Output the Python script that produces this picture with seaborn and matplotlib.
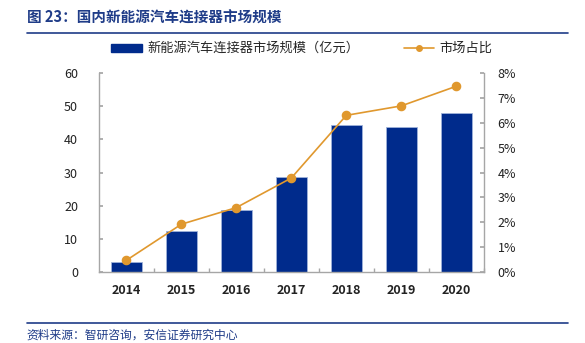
import matplotlib
matplotlib.use("Agg")
import matplotlib.pyplot as plt
import seaborn as sns
import pandas as pd
import numpy as np
from matplotlib.lines import Line2D
from matplotlib.patches import Patch
from matplotlib.ticker import FuncFormatter, MultipleLocator

years = ["2014", "2015", "2016", "2017", "2018", "2019", "2020"]
market_size = [2.9, 12.4, 18.6, 28.8, 44.4, 43.8, 48.0]   # 亿元
market_share = [0.47, 1.92, 2.59, 3.78, 6.30, 6.68, 7.47]  # %

title_text = "图 23：国内新能源汽车连接器市场规模"
bar_label = "新能源汽车连接器市场规模（亿元）"
line_label = "市场占比"
source_text = "资料来源：智研咨询，安信证券研究中心"

bar_color = "#002B8C"
line_color = "#E0982E"
dark_blue = "#1F3C88"
axis_gray = "#A6A6A6"

sns.set_theme(style="white")
plt.rcParams["font.family"] = ["Noto Sans CJK SC", "DejaVu Sans"]

df = pd.DataFrame({"year": years, "size": market_size, "share": market_share})

fig = plt.figure(figsize=(5.85, 3.43), dpi=100)
ax = fig.add_axes([0.169, 0.207, 0.658, 0.58])

sns.barplot(data=df, x="year", y="size", ax=ax, color=bar_color, width=0.56,
            saturation=1, edgecolor="#9FB2DA", linewidth=0.6)
ax2 = ax.twinx()
sns.pointplot(data=df, x="year", y="share", ax=ax2, color=line_color,
              markers="o", markersize=6, linewidth=1.2)

ax.set_xlim(-0.5, 6.45)
ax.set_ylim(0, 60)
ax2.set_ylim(0, 8)
ax.yaxis.set_major_locator(MultipleLocator(10))
ax2.yaxis.set_major_locator(MultipleLocator(1))
ax2.yaxis.set_major_formatter(FuncFormatter(lambda v, p: f"{v:.0f}%"))

for a in (ax, ax2):
    a.set_xlabel("")
    a.set_ylabel("")
    a.spines["top"].set_visible(False)
    for s in ("left", "right", "bottom"):
        a.spines[s].set_color(axis_gray)
        a.spines[s].set_linewidth(1.0)
    a.grid(False)

ax.spines["right"].set_visible(False)
ax2.spines["left"].set_visible(False)
ax2.spines["bottom"].set_visible(False)

ax.tick_params(axis="y", direction="in", length=3, color=axis_gray, labelsize=9,
               labelcolor="#222222", pad=15, left=True)
ax2.tick_params(axis="y", direction="in", length=3, color=axis_gray, labelsize=9,
                labelcolor="#222222", pad=10, right=True)
ax.tick_params(axis="x", length=0, labelsize=9, labelcolor="#222222", pad=9)
for lbl in ax.get_xticklabels():
    lbl.set_fontweight("bold")
# category boundary ticks on x axis
ax.set_xticks(np.arange(len(years)) + 0.5, minor=True)
ax.tick_params(axis="x", which="minor", direction="in", length=3, color=axis_gray, bottom=True)

handles = [Patch(facecolor=bar_color, edgecolor=bar_color),
           Line2D([0], [0], color=line_color, marker="o", markersize=4, linewidth=1.2)]
fig.legend(handles, [bar_label, line_label], loc="center left", ncol=2,
           bbox_to_anchor=(0.17, 0.858), frameon=False, fontsize=9.5,
           handlelength=2.3, handleheight=0.55, handletextpad=0.4, columnspacing=3.4)

fig.text(0.046, 0.948, title_text, fontsize=10.5, fontweight="bold", color=dark_blue,
         va="center", ha="left")
fig.add_artist(Line2D([0.046, 0.971], [0.905, 0.905], color=dark_blue, linewidth=1.2))
fig.add_artist(Line2D([0.046, 0.971], [0.058, 0.058], color=dark_blue, linewidth=1.2))
fig.text(0.046, 0.022, source_text, fontsize=8.5, color=dark_blue, style="italic",
         va="center", ha="left")

fig.savefig("out.png", dpi=100)
